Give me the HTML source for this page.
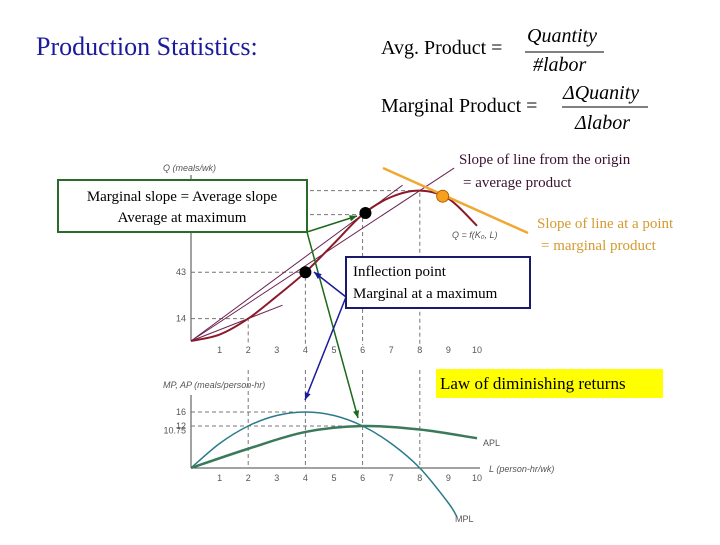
<!DOCTYPE html>
<html><head><meta charset="utf-8"><style>
body{margin:0;background:#fff;}
svg text{font-family:"Liberation Serif",serif;}
.ax{font-family:"Liberation Sans",sans-serif;font-size:9px;fill:#555;}
</style></head><body>
<svg width="720" height="540" viewBox="0 0 720 540">
<text x="36" y="55" font-size="26" fill="#1a1a9a">Production Statistics:</text>
<g font-size="20">
<text x="381" y="54">Avg. Product =</text>
<text x="527" y="42" font-style="italic">Quantity</text>
<line x1="525" y1="52" x2="604" y2="52" stroke="#000"/>
<text x="533" y="71" font-style="italic">#labor</text>
</g>
<g font-size="20">
<text x="381" y="112">Marginal Product =</text>
<text x="563" y="99" font-style="italic">ΔQuanity</text>
<line x1="562" y1="107" x2="648" y2="107" stroke="#000"/>
<text x="575" y="129" font-style="italic">Δlabor</text>
</g>
<g id="gtop"></g>
<g id="gbot"></g>
<g id="gann"></g>
</svg>
<script>
const Ls=[0,1,2,3,4,5,6,7,8,9,10];
const Qs=[0,4,14,28,43,61,79,90,94,89,72];
const mpL=[0,1,2,3,4,5,6,7,8,9,9.3];
const mpV=[0,7,12,15,16,15,12,7,0,-10,-14];
const apL=[0,2,4,6,8,10];
const apV=[0,5.5,10.3,12,11,8.5];
const qTicks=[14,43];
const mpTicks=[16,12,10.75];
const xTicks=[1,2,3,4,5,6,7,8,9,10];
const NS='http://www.w3.org/2000/svg';
const X=l=>191+l*28.6;
const Yt=q=>341-q*1.6;
const Yb=v=>468-v*3.5;
function mk(p,t,a){const e=document.createElementNS(NS,t);for(const k in a)e.setAttribute(k,a[k]);p.appendChild(e);return e;}
function smooth(xs,ys){let d='M'+xs[0]+','+ys[0];for(let i=0;i<xs.length-1;i++){const x0=xs[Math.max(i-1,0)],y0=ys[Math.max(i-1,0)],x3=xs[Math.min(i+2,xs.length-1)],y3=ys[Math.min(i+2,xs.length-1)];d+=` C${xs[i]+(xs[i+1]-x0)/6},${ys[i]+(ys[i+1]-y0)/6} ${xs[i+1]-(x3-xs[i])/6},${ys[i+1]-(y3-ys[i])/6} ${xs[i+1]},${ys[i+1]}`;}return d;}
const gTop=document.getElementById('gtop'),gBot=document.getElementById('gbot'),gAnn=document.getElementById('gann');
let e=mk(gTop,'line',{x1:191,y1:175,x2:191,y2:341,stroke:'#444'});


e=mk(gTop,'text',{x:163,y:171,class:'ax','font-style':'italic'});e.textContent='Q (meals/wk)';


qTicks.forEach(q=>{e=mk(gTop,'text',{x:186,y:Yt(q)+3,class:'ax','text-anchor':'end'});e.textContent=q;

});
xTicks.forEach(l=>{e=mk(gTop,'text',{x:X(l),y:353,class:'ax','text-anchor':'middle'});e.textContent=l;

});
[[2,14],[4,43],[6,79],[8,94]].forEach(([l,q])=>{mk(gTop,'path',{d:`M191,${Yt(q)}H${X(l)}V345`,stroke:'#777','stroke-dasharray':'4,3',fill:'none'});});
[[2,14,3.2],[6,79,7.4],[8,94,9.2]].forEach(([l,q,ext])=>{e=mk(gTop,'line',{x1:X(0),y1:Yt(0),x2:X(ext),y2:Yt(q/l*ext),stroke:'#6a2050','stroke-width':1});

});
e=mk(gTop,'path',{d:smooth(Ls.map(X),Qs.map(Yt)),stroke:'#8b1a2a','stroke-width':2,fill:'none'});


e=mk(gTop,'text',{x:452,y:238,class:'ax','font-style':'italic'});e.textContent='Q = f(K₀, L)';
e=mk(gTop,'line',{x1:383,y1:168,x2:528,y2:233,stroke:'#f0a830','stroke-width':2.5});


e=mk(gTop,'circle',{cx:X(8.8),cy:Yt(90.5),r:6,fill:'#f7a020',stroke:'#b06000'});


e=mk(gTop,'circle',{cx:X(4),cy:Yt(43),r:6,fill:'#000'});


e=mk(gTop,'circle',{cx:X(6.1),cy:Yt(80),r:6,fill:'#000'});


mk(gBot,'line',{x1:191,y1:395,x2:191,y2:468,stroke:'#444'});
mk(gBot,'line',{x1:191,y1:468,x2:480,y2:468,stroke:'#444'});
e=mk(gBot,'text',{x:163,y:388,class:'ax','font-style':'italic'});e.textContent='MP, AP (meals/person-hr)';


e=mk(gBot,'text',{x:489,y:472,class:'ax','font-style':'italic'});e.textContent='L (person-hr/wk)';


mpTicks.forEach(v=>{e=mk(gBot,'text',{x:186,y:Yb(v)+3,class:'ax','text-anchor':'end'});e.textContent=v;

});
xTicks.forEach(l=>{e=mk(gBot,'text',{x:X(l),y:481,class:'ax','text-anchor':'middle'});e.textContent=l;

});
mk(gBot,'path',{d:`M191,${Yb(16)}H${X(4)}M191,${Yb(12)}H${X(6)}`,stroke:'#777','stroke-dasharray':'4,3'});
[2,4,6,8].forEach(l=>mk(gBot,'line',{x1:X(l),y1:370,x2:X(l),y2:468,stroke:'#777','stroke-dasharray':'4,3'}));
e=mk(gBot,'path',{d:smooth(mpL.map(X),mpV.map(Yb)),stroke:'#2a7a8a','stroke-width':1.5,fill:'none'});


e=mk(gBot,'path',{d:smooth(apL.map(X),apV.map(Yb)),stroke:'#3a7a5a','stroke-width':2.5,fill:'none'});


e=mk(gBot,'text',{x:483,y:446,class:'ax'});e.textContent='APL';
e=mk(gBot,'text',{x:455,y:522,class:'ax'});e.textContent='MPL';
function arrow(x1,y1,x2,y2,c){mk(gAnn,'line',{x1,y1,x2,y2,stroke:c,'stroke-width':1.5});const a=Math.atan2(y2-y1,x2-x1),s=8;
mk(gAnn,'polygon',{points:`${x2},${y2} ${x2-s*Math.cos(a-0.4)},${y2-s*Math.sin(a-0.4)} ${x2-s*Math.cos(a+0.4)},${y2-s*Math.sin(a+0.4)}`,fill:c});}
arrow(307,232,357,216,'#1a6a1a');arrow(307,232,358,418,'#1a6a1a');
arrow(346,297,314,272,'#1a1a9a');arrow(346,297,305,400,'#1a1a9a');
e=mk(gAnn,'rect',{x:58,y:180,width:249,height:52,fill:'#fff',stroke:'#2a6a2a','stroke-width':2});


e=mk(gAnn,'text',{x:182,y:201,'font-size':15,'text-anchor':'middle'});e.textContent='Marginal slope = Average slope';
e=mk(gAnn,'text',{x:182,y:222,'font-size':15,'text-anchor':'middle'});e.textContent='Average at maximum';
e=mk(gAnn,'rect',{x:346,y:257,width:184,height:51,fill:'#fff',stroke:'#1a1a6a','stroke-width':2});


e=mk(gAnn,'text',{x:353,y:276,'font-size':15});e.textContent='Inflection point';
e=mk(gAnn,'text',{x:353,y:298,'font-size':15});e.textContent='Marginal at a maximum';
e=mk(gAnn,'rect',{x:436,y:369,width:227,height:29,fill:'#ffff00'});


e=mk(gAnn,'text',{x:440,y:389,'font-size':17});e.textContent='Law of diminishing returns';
e=mk(gAnn,'text',{x:459,y:164,'font-size':15,fill:'#3a1030'});e.textContent='Slope of line from the origin';
e=mk(gAnn,'text',{x:463,y:187,'font-size':15,fill:'#3a1030'});e.textContent='= average product';
e=mk(gAnn,'text',{x:537,y:228,'font-size':15,fill:'#d49a30'});e.textContent='Slope of line at a point';
e=mk(gAnn,'text',{x:541,y:250,'font-size':15,fill:'#d49a30'});e.textContent='= marginal product';
</script>
</body></html>
